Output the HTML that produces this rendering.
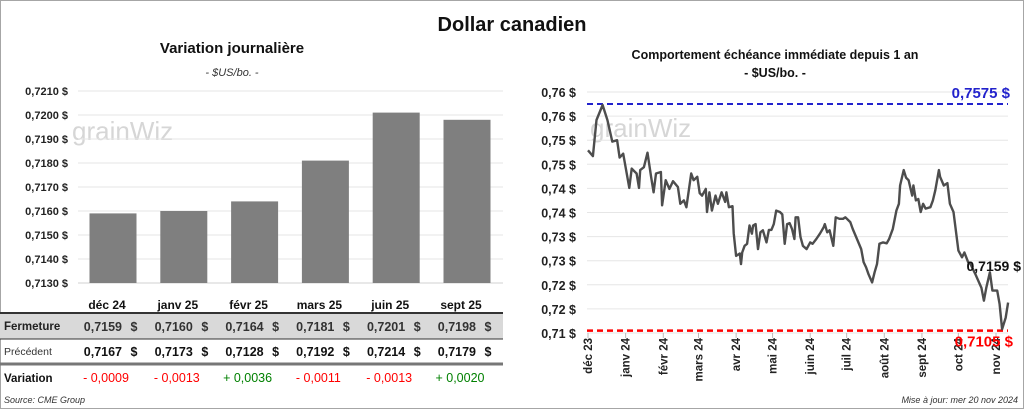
<!DOCTYPE html>
<html><head><meta charset="utf-8"><style>
body{margin:0;background:#fff;}
#root{position:relative;width:1024px;height:409px;overflow:hidden;font-family:"Liberation Sans",sans-serif;}
svg text{font-family:"Liberation Sans",sans-serif;}
</style></head><body>
<div id="root">
<svg id="svg" width="1024" height="409" xmlns="http://www.w3.org/2000/svg" style="display:block">
<rect x="0.5" y="0.5" width="1023" height="408" fill="#fff" stroke="#a6a6a6"/>
<text x="512" y="31" text-anchor="middle" font-size="20" font-weight="bold" fill="#111">Dollar canadien</text>
<text x="232" y="53" text-anchor="middle" font-size="15" font-weight="bold" fill="#111">Variation  journalière</text>
<text x="232" y="76" text-anchor="middle" font-size="11" font-style="italic" fill="#333">- $US/bo. -</text>
<text x="775" y="59" text-anchor="middle" font-size="12.5" font-weight="bold" fill="#111">Comportement échéance immédiate depuis 1 an</text>
<text x="775" y="77" text-anchor="middle" font-size="12.5" font-weight="bold" fill="#111">- $US/bo. -</text>
<text x="72" y="140" font-size="26" fill="#d6d6d6">grainWiz</text>
<text x="590" y="137" font-size="26" fill="#d6d6d6">grainWiz</text>
<g id="left"></g>
<g id="right"></g>
<text x="4" y="403" font-size="9" font-style="italic" fill="#333">Source: CME Group</text>
<text x="1018" y="403" text-anchor="end" font-size="9" font-style="italic" fill="#333">Mise à jour: mer 20 nov 2024</text>
</svg>
</div>
<script>
const NS="http://www.w3.org/2000/svg";
// Left chart data
const months=["déc 24","janv 25","févr 25","mars 25","juin 25","sept 25"];
const closes=[0.7159,0.7160,0.7164,0.7181,0.7201,0.7198];
const previous=[0.7167,0.7173,0.7128,0.7192,0.7214,0.7179];
const variations=[-0.0009,-0.0013,0.0036,-0.0011,-0.0013,0.0020];
const leftTicks=[0.7130,0.7140,0.7150,0.7160,0.7170,0.7180,0.7190,0.7200,0.7210];
// Right chart data
const dayIndex=[0,4,7,12,16,20,24,26,29,31,34,36,40,42,43,46,49,52,54,56,60,61,64,67,70,74,76,79,81,85,87,90,92,94,97,98,100,102,105,107,110,113,114,116,119,120,122,125,126,127,129,131,133,135,136,138,140,142,144,147,149,151,153,155,158,160,162,164,166,168,170,171,173,175,177,180,183,185,188,191,194,195,197,199,202,204,207,210,212,216,218,222,225,227,229,231,234,236,238,240,243,246,248,251,254,256,257,260,262,264,267,268,270,272,274,276,278,282,284,286,289,290,293,296,298,301,305,308,310,313,315,319,322,324,326,328,331,333,337,339,341,344,346];
const prices=[.7479,.7467,.7542,.7573,.7542,.7497,.7500,.7464,.7472,.7444,.7401,.7441,.7431,.7401,.7438,.7444,.7474,.7424,.7392,.7431,.7434,.7365,.7417,.7399,.7415,.7403,.7368,.7375,.7361,.7431,.7417,.7424,.7390,.7385,.7399,.7351,.7392,.7354,.7385,.7368,.7392,.7372,.7392,.7361,.7363,.7307,.7260,.7265,.7243,.7267,.7281,.7285,.7323,.7306,.7323,.7326,.7274,.7309,.7313,.7288,.7314,.7314,.7326,.7354,.7351,.7346,.7285,.7326,.7328,.7316,.7295,.7340,.7340,.7299,.7281,.7274,.7288,.7285,.7295,.7306,.7319,.7326,.7309,.7313,.7281,.7340,.7337,.7337,.7340,.7330,.7316,.7292,.7274,.7247,.7236,.7222,.7205,.7226,.7243,.7285,.7288,.7286,.7295,.7316,.7354,.7368,.7406,.7438,.7422,.7417,.7385,.7406,.7375,.7378,.7351,.7368,.7358,.7361,.7375,.7396,.7438,.7424,.7406,.7411,.7368,.7351,.7271,.7257,.7267,.7247,.7243,.7222,.7205,.7194,.7167,.7194,.7226,.7188,.7188,.7160,.7108,.7132,.7163];
const rightTicks=[0.760,0.755,0.750,0.745,0.740,0.735,0.730,0.725,0.720,0.715,0.710];
const rightTickLabels=["0,76 $","0,76 $","0,75 $","0,75 $","0,74 $","0,74 $","0,73 $","0,73 $","0,72 $","0,72 $","0,71 $"];
const monthLabels=["déc 23","janv 24","févr 24","mars 24","avr 24","mai 24","juin 24","juil 24","août 24","sept 24","oct 24","nov 24"];
const monthDays=[0,31,62,91,122,152,183,213,244,275,305,336];
const maxPrice=0.7575, minPrice=0.7105, lastPrice=0.7159;

function el(tag,attrs,parent,txt){const e=document.createElementNS(NS,tag);for(const k in attrs)e.setAttribute(k,attrs[k]);if(txt!==undefined)e.textContent=txt;parent.appendChild(e);return e;}
const fmt=v=>v.toFixed(4).replace('.',',');

// LEFT
const L=document.getElementById('left');
const ly=v=>283-(v-0.7130)*24000;
const bandX0=77.6, bandW=70.8;
const lx=i=>bandX0+bandW*(i+0.5);
leftTicks.forEach(t=>{
  const g=el('line',{x1:78,x2:503,y1:ly(t),y2:ly(t),stroke:Math.abs(t-0.7130)<1e-9?'#d0d0d0':'#e6e6e6','stroke-width':1},L);
  
  
  const tx=el('text',{x:68,y:ly(t)+4,'text-anchor':'end','font-size':11,'font-weight':'bold',fill:'#222'},L,fmt(t)+' $');
  
  
});
closes.forEach((v,i)=>{
  const r=el('rect',{x:lx(i)-23.5,y:ly(v),width:47,height:283-ly(v),fill:'#7f7f7f'},L);
  
  
});
// table
el('rect',{x:0,y:313,width:503,height:26,fill:'#d9d9d9'},L);
el('line',{x1:0,x2:503,y1:313,y2:313,stroke:'#333','stroke-width':2},L);
el('line',{x1:0,x2:503,y1:339,y2:339,stroke:'#333','stroke-width':1},L);
el('line',{x1:0,x2:503,y1:364,y2:364,stroke:'#777','stroke-width':3},L);
[['Fermeture',330,true,'#222'],['Précédent',355,false,'#333'],['Variation',382,true,'#111']].forEach(r=>{
  const t=el('text',{x:4,y:r[1],'font-size':r[2]?11.5:10.5,'font-weight':r[2]?'bold':'normal',fill:r[3]},L,r[0]);
  
  
});
months.forEach((m,i)=>{
  const c=lx(i);
  const h=el('text',{x:c-6,y:309,'text-anchor':'middle','font-size':12,'font-weight':'bold',fill:'#111'},L,m);
  
  
  const a=el('text',{x:c+9,y:331,'text-anchor':'end','font-size':12.5,'font-weight':'bold',fill:'#333'},L,fmt(closes[i]));
  
  
  el('text',{x:c+21,y:331,'text-anchor':'middle','font-size':12.5,'font-weight':'bold',fill:'#333'},L,'$');
  const b=el('text',{x:c+9,y:356,'text-anchor':'end','font-size':12.5,'font-weight':'bold',fill:'#111'},L,fmt(previous[i]));
  
  
  el('text',{x:c+21,y:356,'text-anchor':'middle','font-size':12.5,'font-weight':'bold',fill:'#111'},L,'$');
  const d=variations[i];
  const dv=el('text',{x:c-7,y:382,'text-anchor':'middle','font-size':12.5,fill:d<0?'#ff0000':'#008000'},L,(d<0?'- ':'+ ')+fmt(Math.abs(d)));
  
  
});

// RIGHT
const R=document.getElementById('right');
const ry=v=>92+(0.760-v)*4820;
const rx=d=>588+d*1.2143;
rightTicks.forEach((t,i)=>{
  const g=el('line',{x1:587,x2:1008,y1:ry(t),y2:ry(t),stroke:'#e6e6e6','stroke-width':1},R);
  
  
  const tx=el('text',{x:576,y:ry(t)+5,'text-anchor':'end','font-size':12.5,'font-weight':'bold',fill:'#222'},R,rightTickLabels[i]);
  
  
});
monthLabels.forEach((m,i)=>{
  const x=rx(monthDays[i]);
  el('line',{x1:x,x2:x,y1:333,y2:338,stroke:'#bbb'},R);
  const t=el('text',{x:0,y:0,transform:`translate(${x+4},338) rotate(-90)`,'text-anchor':'end','font-size':11.5,'font-weight':'bold',fill:'#222'},R,m);
  
  
});
const hi=el('line',{x1:587,x2:1008,y1:ry(maxPrice),y2:ry(maxPrice),stroke:'#2222cc','stroke-width':2,'stroke-dasharray':'6,4'},R);


const lo=el('line',{x1:587,x2:1008,y1:ry(minPrice),y2:ry(minPrice),stroke:'#ff0000','stroke-width':2.5,'stroke-dasharray':'6,4'},R);


const pts=dayIndex.map((d,i)=>rx(d).toFixed(1)+','+ry(prices[i]).toFixed(1)).join(' ');
const pl=el('polyline',{points:pts,fill:'none',stroke:'#4d4d4d','stroke-width':2.4,'stroke-linejoin':'round'},R);


const mx=el('text',{x:1010,y:ry(maxPrice)-6,'text-anchor':'end','font-size':15,'font-weight':'bold',fill:'#2222cc'},R,fmt(maxPrice)+' $');


const ls=el('text',{x:1021,y:271,'text-anchor':'end','font-size':14,'font-weight':'bold',fill:'#111'},R,fmt(lastPrice)+' $');


const mn=el('text',{x:1013,y:ry(minPrice)+16,'text-anchor':'end','font-size':15,'font-weight':'bold',fill:'#ff0000'},R,fmt(minPrice)+' $');


</script>
</body></html>
